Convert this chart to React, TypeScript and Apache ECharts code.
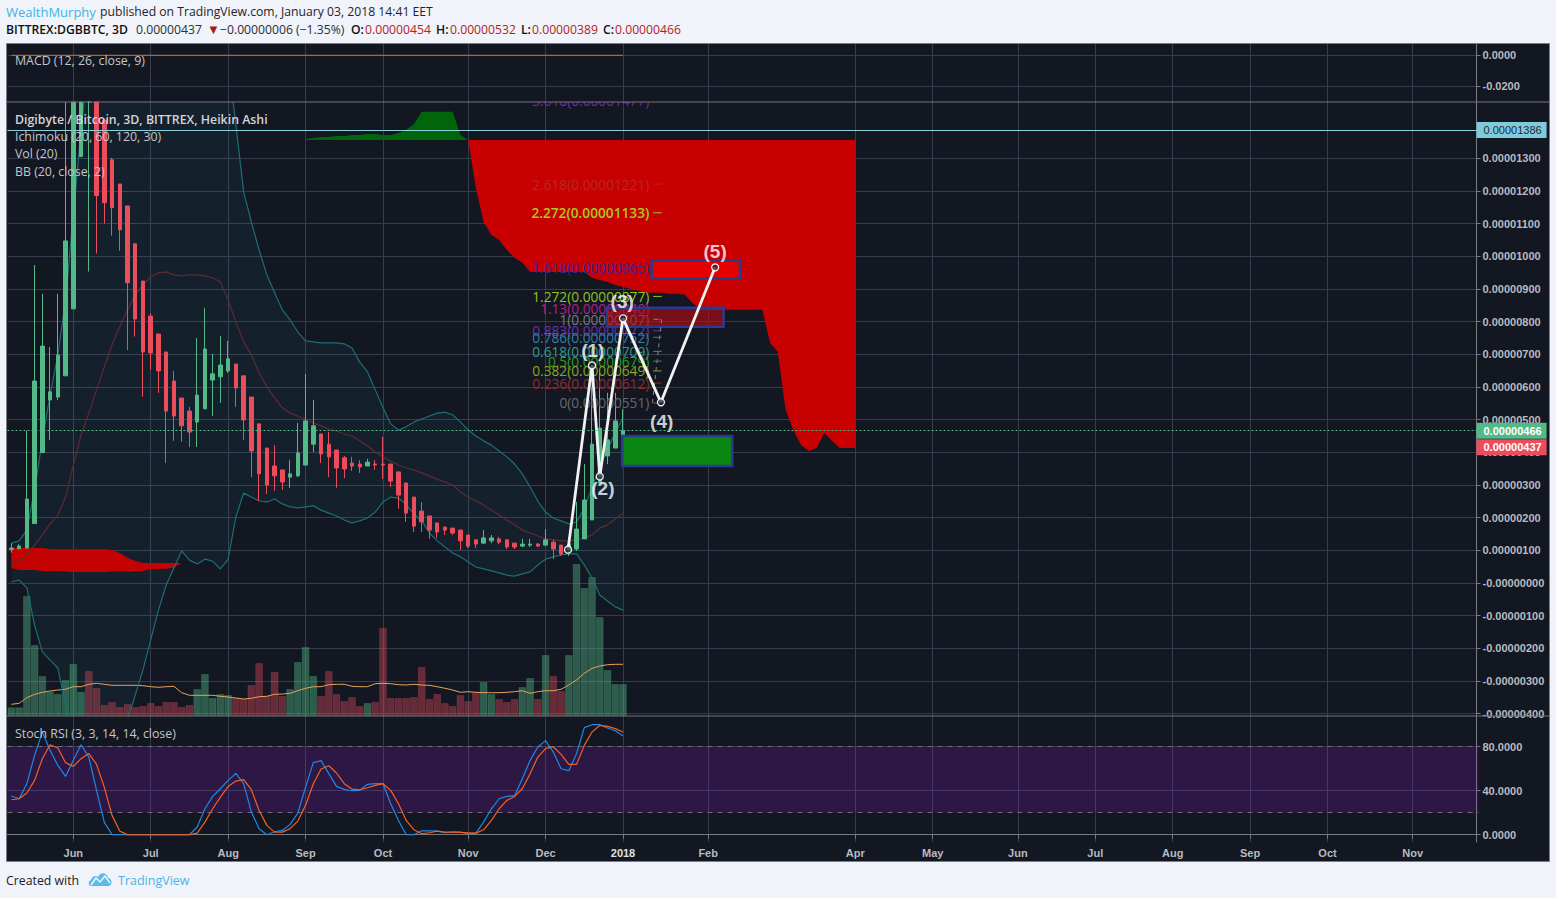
import React, { useEffect, useRef } from "react";
import * as echarts from "echarts";

// All prices are in units of 0.00000001 BTC
const monthIndex = [8, 18, 28, 38, 48, 59, 69, 79, 90, 109, 119, 130, 140, 150, 160, 170, 181];
const monthLabels = ["Jun", "Jul", "Aug", "Sep", "Oct", "Nov", "Dec", "2018", "Feb", "Apr", "May", "Jun", "Jul", "Aug", "Sep", "Oct", "Nov"];
const priceTicks = [-400, -300, -200, -100, 0, 100, 200, 300, 400, 500, 600, 700, 800, 900, 1000, 1100, 1200, 1300];
const macdTicks = [0, -0.02];
const stochTicks = [0, 40, 80];

const opens = [
  103, 105, 107, 182, 399, 560, 569, 634, 839, 1305,
  1950, 1700, 1417, 1295, 1221, 1154, 1038, 924, 817, 762,
  707, 618, 566, 526, 493, 533, 621, 631, 649, 670,
  634, 569, 487, 413, 358, 346, 324, 328, 361, 425,
  456, 425, 407, 383, 367, 364, 358, 364, 364, 364,
  340, 306, 263, 220, 205, 184, 171, 168, 162, 147,
  132, 122, 129, 135, 132, 122, 113, 116, 119, 116,
  125, 116, 98, 104, 135, 193, 306, 389, 413, 454,
];
const closes = [
  107, 113, 257, 618, 725, 585, 698, 1047, 1600, 1700,
  1550, 1186, 1164, 1149, 1081, 919, 808, 707, 704, 649,
  526, 511, 481, 462, 575, 716, 640, 667, 686, 597,
  499, 404, 334, 300, 328, 309, 334, 398, 496, 481,
  395, 386, 352, 349, 358, 355, 370, 361, 361, 312,
  269, 214, 174, 187, 162, 156, 162, 153, 129, 113,
  119, 138, 138, 125, 110, 110, 119, 119, 113, 132,
  104, 89, 119, 165, 254, 425, 474, 438, 496, 466,
];
const lows = [
  93, 103, 107, 182, 399, 438, 560, 634, 839, 1305,
  953, 1008, 1100, 1063, 1017, 713, 754, 570, 652, 582,
  367, 435, 432, 416, 416, 533, 511, 551, 643, 539,
  438, 324, 251, 272, 282, 285, 291, 324, 361, 401,
  367, 324, 291, 321, 343, 337, 358, 346, 318, 294,
  227, 187, 156, 156, 135, 138, 147, 147, 101, 107,
  107, 122, 122, 119, 104, 104, 110, 110, 110, 113,
  73, 83, 83, 98, 135, 193, 306, 364, 413, 389,
];
const highs = [
  122, 119, 466, 973, 885, 722, 885, 1560, 1850, 1950,
  2100, 1760, 1417, 1301, 1221, 1154, 1038, 924, 826, 762,
  707, 649, 566, 539, 750, 842, 701, 756, 741, 670,
  634, 569, 487, 413, 422, 346, 376, 490, 640, 560,
  456, 462, 407, 389, 386, 376, 380, 376, 447, 364,
  340, 306, 263, 248, 205, 184, 174, 168, 162, 147,
  135, 162, 147, 141, 132, 122, 135, 135, 122, 165,
  132, 116, 141, 248, 364, 661, 652, 582, 582, 532,
];
const bbUpper = [
  122, 129, 162, 285, 438, 575, 698, 866, 1126, 1387,
  1601, 1693, 1785, 1846, 1876, 1892, 1892, 1886, 1876, 1876,
  1870, 1861, 1852, 1846, 1840, 1830, 1815, 1785, 1601, 1402,
  1197, 1105, 1019, 943, 888, 836, 805, 768, 741, 738,
  735, 735, 735, 732, 719, 676, 646, 591, 536, 487,
  468, 478, 493, 502, 511, 520, 523, 514, 493, 468,
  450, 435, 422, 404, 386, 364, 334, 294, 251, 217,
  199, 190, 181, 187, 230, 294, 355, 407, 462, 505,
];
const bbBasis = [
  61, 67, 86, 116, 147, 181, 208, 263, 361, 453,
  520, 591, 661, 729, 784, 836, 882, 912, 937, 949,
  952, 943, 940, 943, 943, 940, 934, 921, 866, 799,
  738, 698, 643, 600, 566, 536, 520, 511, 502, 490,
  481, 471, 465, 456, 450, 435, 419, 401, 386, 373,
  361, 352, 346, 337, 328, 318, 309, 300, 279, 263,
  251, 239, 223, 208, 193, 178, 162, 153, 144, 135,
  132, 129, 129, 132, 138, 147, 168, 178, 196, 214,
];
const bbLower = [
  3, 9, -15, -129, -211, -236, -260, -373, -664, -909,
  -1062, -1032, -940, -756, -572, -419, -343, -266, -174, -83,
  -6, 46, 98, 70, 58, 73, 67, 43, 73, 202,
  275, 263, 251, 248, 257, 242, 233, 230, 233, 236,
  223, 214, 205, 193, 184, 190, 199, 217, 248, 263,
  260, 239, 211, 190, 153, 129, 110, 92, 80, 64,
  49, 43, 37, 31, 24, 21, 28, 34, 55, 73,
  80, 86, 89, 89, 55, 15, -37, -55, -73, -83,
];
const volumes = [
  8.7, 8.7, 120, 71, 40, 24.3, 22, 36, 52, 24,
  45, 28, 11, 14, 9, 12, 9, 10, 13, 10,
  14, 14, 9, 11, 27, 42, 18, 22, 21, 18,
  17, 31, 53, 20, 44, 20, 27, 54, 69, 40,
  20, 45, 22, 15, 19, 10, 13, 14, 88, 18,
  18, 18, 19, 49, 17, 22, 13, 10, 21, 15,
  24, 34, 22, 17, 14, 17, 29, 38, 17, 61,
  40, 25, 61, 152, 128, 139, 99, 46, 32, 32,
];
const volumeMA = [
  11.7, 12.7, 18.3, 21.7, 23.7, 25, 26, 26.7, 29.3, 29.3,
  31.7, 32.7, 31.7, 30.7, 30.7, 30.7, 30.7, 30.3, 29.3, 28.7,
  29.3, 29.7, 23.3, 20.7, 20.7, 20.7, 20.7, 19.7, 19, 18,
  17, 17.7, 19.3, 19.7, 21.7, 22, 22.7, 25.3, 27.7, 29.3,
  29.3, 31.3, 31.7, 31.7, 29.7, 29.3, 29.3, 32.3, 32.7, 32.3,
  31.3, 31, 31.7, 31, 30.7, 29.3, 27.7, 26, 23.7, 24.3,
  23.7, 23.3, 23.3, 23.3, 23.7, 24.3, 25.3, 22.7, 24.3, 25.3,
  25.3, 26.7, 31, 36, 42.7, 47.7, 50, 51.3, 51.7, 51.7,
];
const stochK = [
  35.2, 32.7, 46.4, 72.1, 93.3, 76.7, 63, 53, 67.6, 81.8,
  70.6, 40.3, 11.5, 0, 0, 0, 0, 0, 0, 0,
  0, 0, 0, 0, 7, 23.6, 34.8, 41.8, 49.4, 55.8,
  46.4, 20.6, 5.5, 0, 2.7, 3.9, 9.4, 19.7, 43.3, 65.5,
  67.3, 55.5, 43.9, 41.2, 40, 40.3, 45.8, 46.4, 46.4, 28.2,
  13, 0, 0, 3.6, 3.6, 3.3, 1.8, 2.4, 2.4, 0.9,
  1.5, 11.5, 23.6, 32.7, 34.8, 35.5, 50.9, 67.6, 79.7, 85.5,
  75.2, 60, 58.2, 73.6, 97.3, 100, 100, 97, 94.5, 89.7,
];
const stochD = [
  31.8, 32.7, 37.9, 49.4, 69.1, 81.8, 78.8, 65.5, 62.1, 69.1,
  73.9, 63.9, 43.3, 17.6, 3.3, 0, 0, 0, 0, 0,
  0, 0, 0, 0, 1.5, 11.5, 23.6, 34.2, 43.9, 48.8,
  50, 40.9, 22.1, 8.5, 2.4, 2.4, 5.5, 12.4, 26.7, 46.4,
  59.7, 62.7, 56.1, 46.4, 41.5, 40.9, 42.7, 44.8, 46.4, 40.3,
  28.2, 13, 4.5, 0.9, 1.8, 3.3, 2.4, 2.4, 2.1, 1.8,
  1.5, 4.5, 13, 23.6, 31.2, 34.8, 41.8, 55.5, 70.6, 78.2,
  80, 73, 63.9, 63.9, 81.2, 93.3, 99.4, 98.5, 96.4, 93.3,
];
const macdValues = [
  0, 0, 0, 0, 0, 0, 0, 0, 0, 0, 0, 0, 0, 0, 0, 0, 0, 0, 0, 0,
  0, 0, 0, 0, 0, 0, 0, 0, 0, 0, 0, 0, 0, 0, 0, 0, 0, 0, 0, 0,
  0, 0, 0, 0, 0, 0, 0, 0, 0, 0, 0, 0, 0, 0, 0, 0, 0, 0, 0, 0,
  0, 0, 0, 0, 0, 0, 0, 0, 0, 0, 0, 0, 0, 0, 0, 0, 0, 0, 0, 0,
];

// Ichimoku clouds: first bar index, upper edge, lower edge
const cloudLeftStart = 0;
const cloudLeftTop = [
  107, 107, 107, 107, 107, 104, 103, 103, 103, 103,
  103, 103, 103, 101, 92, 77, 67, 61, 61, 61,
  61, 61, 61,
];
const cloudLeftBottom = [
  46, 40, 40, 40, 37, 37, 37, 35, 34, 34,
  34, 34, 34, 35, 35, 35, 37, 37, 43, 43,
  44, 47, 61,
];
const cloudGreenStart = 38;
const cloudGreenTop = [
  1359, 1362, 1365, 1365, 1368, 1368, 1371, 1371, 1374, 1374,
  1371, 1371, 1377, 1387, 1405, 1442, 1442, 1442, 1442, 1442,
  1371, 1356,
];
const cloudGreenBottom = [
  1356, 1356, 1356, 1356, 1356, 1356, 1356, 1356, 1356, 1356,
  1356, 1356, 1356, 1356, 1356, 1356, 1356, 1356, 1356, 1356,
  1356, 1356,
];
const cloudRedStart = 59;
const cloudRedTop = [
  1356, 1356, 1356, 1356, 1356, 1356, 1356, 1356, 1356, 1356,
  1356, 1356, 1356, 1356, 1356, 1356, 1356, 1356, 1356, 1356,
  1356, 1356, 1356, 1356, 1356, 1356, 1356, 1356, 1356, 1356,
  1356, 1356, 1356, 1356, 1356, 1356, 1356, 1356, 1356, 1356,
  1356, 1356, 1356, 1356, 1356, 1356, 1356, 1356, 1356, 1356,
  1356,
];
const cloudRedBottom = [
  1356, 1209, 1105, 1065, 1050, 1019, 995, 980, 952, 952,
  952, 952, 952, 952, 952, 952, 934, 927, 921, 912,
  906, 900, 894, 888, 888, 888, 885, 885, 882, 857,
  836, 836, 836, 836, 836, 836, 836, 836, 836, 735,
  707, 530, 468, 422, 404, 413, 459, 435, 413, 413,
  413,
];

// Fibonacci levels
const fibRatios = ["3.618", "2.618", "2.272", "1.618", "1.272", "1.13", "1", "0.883", "0.786", "0.618", "0.5", "0.382", "0.236", "0"];
const fibPrices = [1477, 1221, 1133, 965, 877, 840, 807, 772, 752, 709, 679, 649, 612, 551];
const fibColors = ["#6f2aa8", "#b42a24", "#a9c91e", "#3a25a5", "#8fc31f", "#b0208f", "#777a80", "#6a2fb0", "#2f81a8", "#2f9c86", "#2d9c20", "#8ba420", "#8f2a2a", "#666a70"];
const fibRetrace = [[82.8, 551], [84, 807], [82.8, 807]];

// Elliott wave drawing
const waveX = [71.9, 75, 76, 79, 83.9, 90.9];
const waveY = [102, 666, 326, 810, 553, 966];
const waveLabels = ["(1)", "(2)", "(3)", "(4)", "(5)"];
const waveLabelX = [75.1, 76.4, 78.9, 84, 90.9];
const waveLabelY = [713, 288, 860, 493, 1016];

// Target boxes: bar from, bar to, price top, price bottom
const boxFrom = [78.9, 76.9, 82.7];
const boxTo = [93.1, 92.0, 94.1];
const boxTop = [450, 842, 986];
const boxBottom = [358, 784, 931];
const boxFills = ["rgba(10,140,18,0.95)", "rgba(190,10,20,0.6)", "#e60000"];

const BAR_COUNT = 190;
const PRICE_TOP = 1472;
const BG = "#131722";
const GRID = "#363c4e";
const UP = "#53b987";
const DOWN = "#eb4d5c";
const AXIS = "#787b80";
const LABEL = "#b8bbc0";
const UI = "'Open Sans', sans-serif";
const NUM = "'Liberation Sans', Arial, sans-serif";

echarts.graphic.registerShape(
  "tvlogo",
  echarts.graphic.extendPath("M3 14 C0 14 0 9 3 8 C4 4 8 3 10 5 C12 0 19 0 20 6 C24 6 25 13 21 14 Z", {})
);

const isMonth = (i: number) => monthIndex.includes(i);
const categories = Array.from({ length: BAR_COUNT }, (_, i) => {
  const k = monthIndex.indexOf(i);
  return k >= 0 ? monthLabels[k] : "";
});
const capped = (v: number) => Math.min(v, PRICE_TOP);

function polygonSeries(start: number, top: number[], bottom: number[], fill: string, z: number) {
  return {
    type: "custom",
    xAxisIndex: 3,
    yAxisIndex: 1,
    clip: true,
    silent: true,
    z,
    data: top.map((v, k) => [start + k, v]),
    renderItem: (params: any, api: any) => {
      if (params.dataIndex !== 0) return null;
      const a = top.map((v, k) => api.coord([start + k, v]));
      const b = bottom.map((v, k) => api.coord([start + k, v])).reverse();
      return { type: "polygon", shape: { points: [...a, ...b] }, style: { fill } };
    },
  };
}

function catAxis(gridIndex: number, withLabels: boolean) {
  return {
    type: "category",
    gridIndex,
    data: categories,
    boundaryGap: true,
    axisLine: { show: withLabels, lineStyle: { color: AXIS, width: 1 } },
    axisTick: { show: withLabels, alignWithLabel: true, interval: (i: number) => isMonth(i), length: 4, lineStyle: { color: AXIS } },
    axisLabel: {
      show: withLabels,
      interval: (i: number) => isMonth(i),
      hideOverlap: false,
      margin: 5,
      color: LABEL,
      fontFamily: NUM,
      fontSize: 11,
      fontWeight: "bold",
      formatter: (v: string) => (v === "2018" ? `{b|${v}}` : v),
      rich: { b: { color: "#e0e0e0", fontFamily: NUM, fontSize: 11, fontWeight: "bold" } },
    },
    splitLine: { show: true, alignWithLabel: true, interval: (i: number) => isMonth(i), lineStyle: { color: GRID, width: 1 } },
  };
}

function valAxis(gridIndex: number, min: number, max: number, ticks: number[], fmt: (v: number) => string) {
  return {
    type: "value",
    gridIndex,
    position: "right",
    offset: -2,
    min,
    max,
    scale: true,
    axisLine: { show: true, onZero: false, lineStyle: { color: AXIS, width: 1 } },
    axisTick: { show: true, length: 4, customValues: ticks, lineStyle: { color: AXIS } },
    axisLabel: { show: true, customValues: ticks, margin: 6, color: LABEL, fontFamily: NUM, fontSize: 11, fontWeight: "bold", formatter: fmt },
    splitLine: { show: true, lineStyle: { color: GRID, width: 1 } },
  };
}

const fmtPrice = (v: number) => {
  const s = (Math.abs(v) * 1e-8).toFixed(8);
  return v <= 0 ? `-${s}` : s;
};

function txt(x: number, y: number, text: string, fill: string, font: string) {
  return { type: "text", x, y, z: 20, silent: true, style: { text, fill, font, textVerticalAlign: "middle" } };
}

function buildOption() {
  const HEAD = `12.2px ${UI}`;
  const HEADB = `600 12.2px ${UI}`;
  const LEG = `12.35px ${UI}`;
  const badge = { show: true, position: "end", distance: 0, padding: [3, 5, 2, 7], fontFamily: NUM, fontSize: 11 };
  const graphic = [
    { type: "rect", z: -5, silent: true, shape: { x: 6.5, y: 43.5, width: 1543, height: 818 }, style: { fill: BG, stroke: "#7a7d82", lineWidth: 1 } },
    { type: "line", z: 10, silent: true, shape: { x1: 7, y1: 102, x2: 1549, y2: 102 }, style: { stroke: "#75777c", lineWidth: 1 } },
    { type: "line", z: 10, silent: true, shape: { x1: 7, y1: 716, x2: 1549, y2: 716 }, style: { stroke: "#75777c", lineWidth: 1 } },
    txt(6, 11.5, "WealthMurphy", "#3db4e8", `13px ${UI}`),
    txt(100, 11.5, "published on TradingView.com, January 03, 2018 14:41 EET", "#1f2428", HEAD),
    txt(6, 29.5, "BITTREX:DGBBTC, 3D", "#111", HEADB),
    txt(136, 29.5, "0.00000437", "#2a2e33", HEAD),
    txt(207, 29.5, "\u25BC", "#a81818", `13px ${NUM}`),
    txt(220, 29.5, "\u22120.00000006 (\u22121.35%)", "#2a2e33", HEAD),
    txt(351, 29.5, "O:", "#111", HEADB),
    txt(365, 29.5, "0.00000454", "#b81c1c", HEAD),
    txt(436, 29.5, "H:", "#111", HEADB),
    txt(450, 29.5, "0.00000532", "#b81c1c", HEAD),
    txt(521, 29.5, "L:", "#111", HEADB),
    txt(532, 29.5, "0.00000389", "#b81c1c", HEAD),
    txt(603, 29.5, "C:", "#111", HEADB),
    txt(615, 29.5, "0.00000466", "#b81c1c", HEAD),
    txt(15, 60.5, "MACD (12, 26, close, 9)", "#c4c6ca", LEG),
    txt(15, 119, "Digibyte / Bitcoin, 3D, BITTREX, Heikin Ashi", "#d2d4d8", `600 12.35px ${UI}`),
    txt(15, 136.5, "Ichimoku (20, 60, 120, 30)", "#c4c6ca", LEG),
    txt(15, 153.5, "Vol (20)", "#c4c6ca", LEG),
    txt(15, 171, "BB (20, close, 2)", "#c4c6ca", LEG),
    txt(15, 733.5, "Stoch RSI (3, 3, 14, 14, close)", "#c4c6ca", LEG),
    txt(6, 880.5, "Created with", "#1c2024", `12.3px ${UI}`),
    { type: "tvlogo", x: 88, y: 872, z: 20, silent: true, style: { fill: "#5ebbe8" } },
    { type: "polyline", z: 21, silent: true, shape: { points: [[91, 885], [96, 878], [100, 882], [105, 876], [110, 883]] }, style: { stroke: "#f0f3fa", lineWidth: 1.5, fill: "none" } },
    txt(118, 880.5, "TradingView", "#4cb3e6", `12.5px ${UI}`),
  ];

  const series: any[] = [
    { type: "line", xAxisIndex: 0, yAxisIndex: 0, data: macdValues, symbol: "none", silent: true, lineStyle: { color: "#d8702a", width: 1 }, z: 5 },

    polygonSeries(0, bbUpper, bbLower, "rgba(40,170,180,0.07)", 1),

    {
      type: "bar",
      xAxisIndex: 1,
      yAxisIndex: 2,
      barWidth: "100%",
      silent: true,
      z: 3,
      data: volumes.map((v, i) => {
        const up = closes[i] >= opens[i];
        return {
          value: v,
          itemStyle: {
            color: up ? "rgba(83,185,135,0.42)" : "rgba(235,77,92,0.38)",
            borderColor: up ? "rgba(83,185,135,0.22)" : "rgba(235,77,92,0.22)",
            borderWidth: 1,
          },
        };
      }),
    },
    { type: "line", xAxisIndex: 1, yAxisIndex: 2, data: volumeMA, symbol: "none", silent: true, lineStyle: { color: "#e8a25c", width: 1 }, z: 3 },

    polygonSeries(cloudLeftStart, cloudLeftTop, cloudLeftBottom, "rgba(208,0,0,0.95)", 4),
    polygonSeries(cloudGreenStart, cloudGreenTop, cloudGreenBottom, "rgba(0,105,10,0.95)", 4),
    polygonSeries(cloudRedStart, cloudRedTop, cloudRedBottom, "rgba(208,0,0,0.96)", 4),

    { type: "line", xAxisIndex: 1, yAxisIndex: 1, data: bbUpper, symbol: "none", silent: true, lineStyle: { color: "#1b6f74", width: 1.2 }, z: 5 },
    { type: "line", xAxisIndex: 1, yAxisIndex: 1, data: bbLower, symbol: "none", silent: true, lineStyle: { color: "#1b6f74", width: 1.2 }, z: 5 },
    { type: "line", xAxisIndex: 1, yAxisIndex: 1, data: bbBasis, symbol: "none", silent: true, lineStyle: { color: "#5f2a30", width: 1.2 }, z: 5 },

    {
      type: "candlestick",
      xAxisIndex: 1,
      yAxisIndex: 1,
      barWidth: 4,
      silent: true,
      z: 6,
      data: opens.map((o, i) => [capped(o), capped(closes[i]), capped(lows[i]), capped(highs[i])]),
      itemStyle: { color: UP, color0: DOWN, borderColor: UP, borderColor0: DOWN, borderWidth: 1 },
      markLine: {
        silent: true,
        symbol: "none",
        z: 9,
        data: [
          {
            yAxis: 466,
            lineStyle: { color: UP, type: [2, 2], width: 1 },
            label: { ...badge, offset: [-2, 0], formatter: "0.00000466", color: "#ffffff", backgroundColor: UP, fontWeight: "bold" },
          },
          {
            yAxis: 437,
            lineStyle: { color: "rgba(0,0,0,0)", width: 1 },
            label: { ...badge, offset: [-2, 7], formatter: "0.00000437", color: "#ffffff", backgroundColor: DOWN, fontWeight: "bold" },
          },
          {
            yAxis: 1386,
            lineStyle: { color: "#8ad0dc", type: "solid", width: 1 },
            label: { ...badge, offset: [-2, 0], formatter: "0.00001386", color: "#1c2a33", backgroundColor: "#7fcbdc" },
          },
        ],
      },
    },

    {
      type: "custom",
      xAxisIndex: 3,
      yAxisIndex: 1,
      clip: true,
      silent: true,
      z: 7,
      data: fibPrices.map((p) => [83, p]),
      renderItem: (params: any, api: any) => {
        const i = params.dataIndex;
        const p = fibPrices[i];
        const [tx, y] = api.coord([82.4, p]);
        const [x1] = api.coord([82.9, p]);
        const [x2] = api.coord([84, p]);
        const price = (p * 1e-8).toFixed(8);
        return {
          type: "group",
          children: [
            { type: "text", style: { x: tx, y, text: `${fibRatios[i]}(${price})`, fill: fibColors[i], font: `${i === 2 ? "600 " : ""}13.7px ${UI}`, textAlign: "right", textVerticalAlign: "middle" } },
            { type: "line", shape: { x1, y1: y, x2, y2: y }, style: { stroke: fibColors[i], lineWidth: 1 } },
          ],
        };
      },
    },
    { type: "line", xAxisIndex: 3, yAxisIndex: 1, data: fibRetrace, symbol: "none", silent: true, lineStyle: { color: "#80848a", type: [4, 4], width: 1 }, z: 7 },

    {
      type: "custom",
      xAxisIndex: 3,
      yAxisIndex: 1,
      clip: true,
      silent: true,
      z: 7,
      data: boxFrom.map((x, i) => [x, boxTop[i]]),
      renderItem: (params: any, api: any) => {
        const i = params.dataIndex;
        const a = api.coord([boxFrom[i], boxTop[i]]);
        const b = api.coord([boxTo[i], boxBottom[i]]);
        return {
          type: "rect",
          shape: { x: a[0], y: a[1], width: b[0] - a[0], height: b[1] - a[1] },
          style: { fill: boxFills[i], stroke: "#2a3a8c", lineWidth: 2.5 },
        };
      },
    },

    {
      type: "line",
      xAxisIndex: 3,
      yAxisIndex: 1,
      data: waveX.map((x, i) => [x, waveY[i]]),
      symbol: "circle",
      symbolSize: 7,
      silent: true,
      z: 8,
      lineStyle: { color: "#f2f2f2", width: 2.8 },
      itemStyle: { color: "rgba(25,28,40,0.7)", borderColor: "#f2f2f2", borderWidth: 1.3 },
    },
    {
      type: "scatter",
      xAxisIndex: 3,
      yAxisIndex: 1,
      symbolSize: 0,
      silent: true,
      z: 8,
      data: waveLabelX.map((x, i) => ({ value: [x, waveLabelY[i]], name: waveLabels[i] })),
      label: { show: true, position: "inside", formatter: "{b}", color: "#ffffff", fontFamily: NUM, fontSize: 19, fontWeight: "bold" },
    },

    {
      type: "line",
      xAxisIndex: 2,
      yAxisIndex: 3,
      data: stochK,
      symbol: "none",
      silent: true,
      z: 5,
      lineStyle: { color: "#1e88e5", width: 1.2 },
      markArea: {
        silent: true,
        z: 1,
        itemStyle: { color: "rgba(150,30,210,0.2)" },
        data: [[{ yAxis: 20 }, { yAxis: 80 }]],
      },
      markLine: {
        silent: true,
        symbol: "none",
        label: { show: false },
        lineStyle: { color: "#6f6a78", type: [5, 5], width: 1 },
        data: [{ yAxis: 80 }, { yAxis: 20 }],
      },
    },
    { type: "line", xAxisIndex: 2, yAxisIndex: 3, data: stochD, symbol: "none", silent: true, z: 5, lineStyle: { color: "#f4611e", width: 1.2 } },
  ];

  return {
    animation: false,
    backgroundColor: "#f0f3fa",
    tooltip: { show: false },
    graphic,
    grid: [
      { left: 7.5, top: 44, width: 1471, height: 58 },
      { left: 7.5, top: 102, width: 1471, height: 614 },
      { left: 7.5, top: 716, width: 1471, height: 126 },
    ],
    xAxis: [
      catAxis(0, false),
      catAxis(1, false),
      catAxis(2, true),
      { type: "value", gridIndex: 1, min: -0.5, max: BAR_COUNT - 0.5, show: false, splitLine: { show: false } },
    ],
    yAxis: [
      valAxis(0, -0.02994, 0.00724, macdTicks, (v: number) => v.toFixed(4)),
      valAxis(1, -407, PRICE_TOP, priceTicks, fmtPrice),
      { type: "value", gridIndex: 1, min: 0, max: 614, show: false, splitLine: { show: false } },
      valAxis(2, -6.6, 107.9, stochTicks, (v: number) => v.toFixed(4)),
    ],
    series,
  };
}

export default function App() {
  const ref = useRef<HTMLDivElement>(null);
  useEffect(() => {
    document.body.style.margin = "0";
    const chart = echarts.init(ref.current!, undefined, { renderer: "svg" });
    chart.setOption(buildOption() as any);
    return () => chart.dispose();
  }, []);
  return <div ref={ref} style={{ position: "fixed", left: 0, top: 0, width: 1556, height: 898 }} />;
}
